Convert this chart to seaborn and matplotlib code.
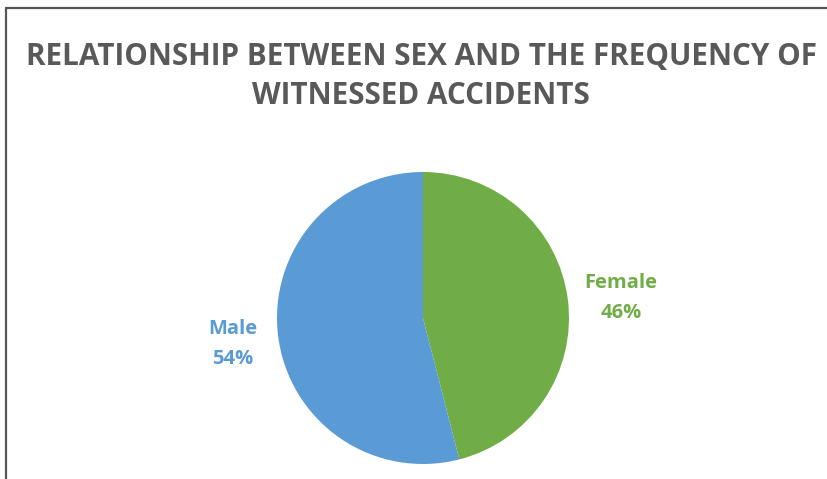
import matplotlib
matplotlib.use("Agg")
import matplotlib.pyplot as plt
import seaborn as sns
from matplotlib.lines import Line2D

sns.set_theme(style="white")
plt.rcParams["font.family"] = ["Open Sans", "DejaVu Sans"]

title_lines = ["RELATIONSHIP BETWEEN SEX AND THE FREQUENCY OF", "WITNESSED ACCIDENTS"]
categories = ["Female", "Male"]
shares = [46, 54]
colors = ["#70AD47", "#5B9BD5"]

W, H = 828, 479
fig = plt.figure(figsize=(W / 100, H / 100), dpi=100)
fig.patch.set_facecolor("white")

# frame edges of the chart area
fig.add_artist(Line2D([6 / W, 1.0], [1 - 8 / H, 1 - 8 / H], color="#555555", lw=1.6))
fig.add_artist(Line2D([6 / W, 6 / W], [0.0, 1 - 8 / H], color="#555555", lw=1.6))

for line, y in zip(title_lines, [53, 92]):
    fig.text(421 / W, 1 - y / H, line, ha="center", va="center_baseline", fontsize=21.3,
             fontweight="bold", color="#595959")

cx, cy, r = 423, 318, 146
ax = fig.add_axes([(cx - r) / W, (H - cy - r) / H, 2 * r / W, 2 * r / H])
wedges, _ = ax.pie(shares, colors=colors, startangle=90, counterclock=False,
                   radius=1.0, wedgeprops=dict(linewidth=0))
ax.set_xlim(-1, 1)
ax.set_ylim(-1, 1)
ax.set_aspect("auto")
ax.axis("off")

# category labels with percentages
label_pos = {"Female": (621, 281), "Male": (233, 327)}
for cat, val, col in zip(categories, shares, colors):
    x, y = label_pos[cat]
    fig.text(x / W, 1 - y / H, cat, ha="center", va="center_baseline",
             fontsize=14.5, fontweight="bold", color=col)
    fig.text(x / W, 1 - (y + 30) / H, f"{val}%", ha="center", va="center_baseline",
             fontsize=14.5, fontweight="bold", color=col)

fig.savefig("out.png", dpi=100, facecolor="white")
